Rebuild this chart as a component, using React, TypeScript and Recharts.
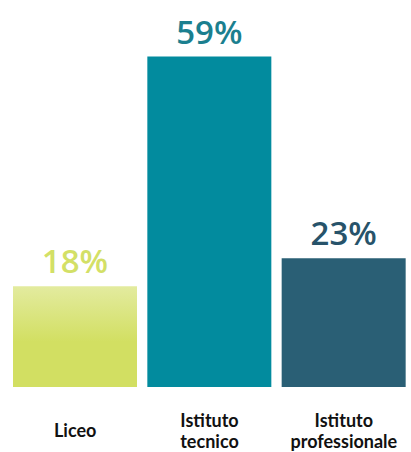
import { BarChart, Bar, XAxis, YAxis, Cell, LabelList } from 'recharts';

const categories = ['Liceo', 'Istituto tecnico', 'Istituto professionale'];
const shares = [18, 59, 23];
const tickLines = [['Liceo'], ['Istituto', 'tecnico'], ['Istituto', 'professionale']];

const barFills = ['url(#liceoGrad)', '#028b9e', '#2a5f75'];
const labelColors = ['#d3e066', '#1b7f8f', '#27536a'];

const data = categories.map((name, i) => ({ name, value: shares[i], idx: i }));

function CategoryTick(props: any) {
  const { x, y, payload } = props;
  const lines = tickLines[payload.index] || [payload.value];
  const base = y + 42 - (lines.length - 1) * 10;
  return (
    <g>
      {lines.map((l: string, i: number) => (
        <text key={i} x={x} y={base + i * 20.5} textAnchor="middle" fill="#111" fontFamily="Lato" fontWeight={700} fontSize={18}>
          {l}
        </text>
      ))}
    </g>
  );
}

function ValueLabel(props: any) {
  const { x, y, width, value, index } = props;
  return (
    <text
      x={x + width / 2}
      y={y - 13}
      textAnchor="middle"
      fill={labelColors[index]}
      fontFamily="Open Sans"
      fontWeight={600}
      fontSize={33}
    >
      {value}%
    </text>
  );
}

export default function App() {
  return (
    <div style={{ position: 'absolute', left: 0, top: 0, background: '#fff' }}>
      <BarChart width={411} height={452} data={data} margin={{ top: 51, right: 0, left: 8, bottom: 0 }} barSize={124}>
        <defs>
          <linearGradient id="liceoGrad" x1="0" y1="0" x2="0" y2="1">
            <stop offset="0" stopColor="#e3eb9f" />
            <stop offset="0.55" stopColor="#d2df62" />
            <stop offset="1" stopColor="#d2df62" />
          </linearGradient>
        </defs>
        <XAxis dataKey="name" axisLine={false} tickLine={false} height={65} tick={<CategoryTick />} interval={0} />
        <YAxis hide domain={[0, 60]} />
        <Bar dataKey="value" isAnimationActive={false}>
          {data.map((d, i) => <Cell key={d.name} fill={barFills[i]} />)}
          <LabelList dataKey="value" content={<ValueLabel />} />
        </Bar>
      </BarChart>
    </div>
  );
}
